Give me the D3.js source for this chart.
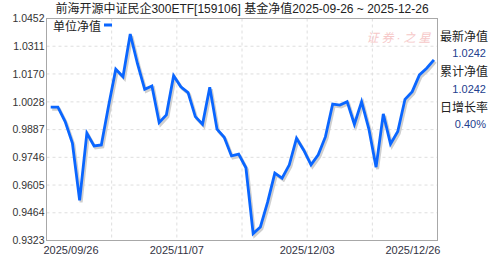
<!DOCTYPE html>
<html>
<head>
<meta charset="utf-8">
<script src="https://cdn.jsdelivr.net/npm/d3@7"></script>
<style>
body{margin:0;background:#fff;}
svg{display:block;font-family:"Liberation Sans","Noto Sans CJK SC",sans-serif;}
</style>
</head>
<body>
<div id="chart"></div>
<script>
// unit NAV, one value per trading day
var navValues = [1.0001, 1.0001, 0.9928, 0.9819, 0.9527, 0.9869, 0.9804, 0.9809, 1.0007, 1.0194,
    1.0156, 1.0373, 1.0222, 1.0092, 1.0109, 0.9923, 0.9962, 1.0161, 1.0105, 1.0075,
    0.9953, 0.9914, 1.0102, 0.9889, 0.9848, 0.9753, 0.9762, 0.9693, 0.9358, 0.9392,
    0.9518, 0.9666, 0.9640, 0.9708, 0.9843, 0.9782, 0.9708, 0.9759, 0.9851, 1.0017,
    1.0012, 1.0029, 0.9914, 1.0029, 0.9891, 0.9696, 0.9967, 0.9814, 0.9877, 1.0041,
    1.0080, 1.0165, 1.0199, 1.0242];
var yTickLabels = ["0.9323", "0.9464", "0.9605", "0.9746", "0.9887", "1.0028", "1.0170", "1.0311", "1.0452"];
var xTickLabels = ["2025/09/26", "2025/11/07", "2025/12/03", "2025/12/26"];
var xTickCols = [0, 2, 4, 6];
var titleText = "前海开源中证民企300ETF[159106] 基金净值2025-09-26 ~ 2025-12-26";
var legendText = "单位净值";
var infoLabels = ["最新净值", "累计净值", "日增长率"];
var infoValues = ["1.0242", "1.0242", "0.40%"];

var W = 488, H = 255;
var margin = {top: 18.5, right: 50.5, bottom: 14.5, left: 46.5};
var plotL = margin.left, plotR = W - margin.right,
    plotT = margin.top, plotB = H - margin.bottom;

var svg = d3.select("#chart").append("svg")
    .attr("width", W)
    .attr("height", H);

var yScale = d3.scaleLinear()
    .domain([+yTickLabels[0], +yTickLabels[yTickLabels.length - 1]])
    .range([plotB, plotT]);

// line is inset a few px from the frame
var xScale = d3.scalePoint()
    .domain(d3.range(navValues.length))
    .range([plotL + 4.2, plotR - 3.6]);

// 6 columns of grid
var xGrid = d3.scaleLinear().domain([0, 6]).range([plotL, plotR]);

// grid
svg.append("g").selectAll("line")
    .data(yTickLabels.slice(1, -1))
    .enter().append("line")
    .attr("x1", plotL).attr("x2", plotR)
    .attr("y1", function(d){ return yScale(+d); })
    .attr("y2", function(d){ return yScale(+d); })
    .attr("stroke", "#dedede")
    .attr("stroke-dasharray", "3,3");

svg.append("g").selectAll("line")
    .data(d3.range(1, 6))
    .enter().append("line")
    .attr("x1", function(d){ return xGrid(d); })
    .attr("x2", function(d){ return xGrid(d); })
    .attr("y1", plotT).attr("y2", plotB)
    .attr("stroke", "#dedede")
    .attr("stroke-dasharray", "3,3");

// frame
svg.append("rect")
    .attr("x", plotL).attr("y", plotT)
    .attr("width", plotR - plotL).attr("height", plotB - plotT)
    .attr("fill", "none")
    .attr("stroke", "#a8a8a8");

// watermark
svg.append("text")
    .attr("x", 400).attr("y", 42)
    .attr("text-anchor", "middle")
    .attr("font-size", 12)
    .attr("font-style", "italic")
    .attr("letter-spacing", 3)
    .attr("fill", "#f6c8c8")
    .text("证券·之星");

// y labels
svg.append("g").selectAll("text")
    .data(yTickLabels)
    .enter().append("text")
    .attr("x", plotL - 2)
    .attr("y", function(d){ return yScale(+d); })
    .attr("dy", "0.35em")
    .attr("text-anchor", "end")
    .attr("font-size", 10.5)
    .attr("fill", "#333")
    .text(function(d){ return d; });

// x labels
svg.append("g").selectAll("text")
    .data(xTickLabels)
    .enter().append("text")
    .attr("x", function(d, i){ return xGrid(xTickCols[i]); })
    .attr("y", 254)
    .attr("text-anchor", function(d, i){ return i == 0 ? "start" : (i == xTickLabels.length - 1 ? "end" : "middle"); })
    .attr("dx", function(d, i){ return i == 0 ? -3 : (i == xTickLabels.length - 1 ? 3 : 0); })
    .attr("font-size", 11)
    .attr("fill", "#334")
    .text(function(d){ return d; });

// line + shadow
var line = d3.line()
    .x(function(d, i){ return xScale(i); })
    .y(function(d){ return yScale(d); });

svg.append("path")
    .datum(navValues)
    .attr("d", line)
    .attr("transform", "translate(1.5,2)")
    .attr("fill", "none")
    .attr("stroke", "#cfcfcf")
    .attr("stroke-width", 3);

svg.append("path")
    .datum(navValues)
    .attr("d", line)
    .attr("fill", "none")
    .attr("stroke", "#0a66ff")
    .attr("stroke-width", 2.8)
    .attr("stroke-linejoin", "miter");

// title
svg.append("text")
    .attr("x", (plotL + plotR) / 2)
    .attr("y", 12.5)
    .attr("text-anchor", "middle")
    .attr("font-size", 12)
    .attr("fill", "#222")
    .text(titleText);

// legend
svg.append("text")
    .attr("x", 53).attr("y", 30.5)
    .attr("font-size", 12)
    .attr("fill", "#222")
    .text(legendText);
svg.append("rect")
    .attr("x", 104).attr("y", 23.5)
    .attr("width", 8).attr("height", 3)
    .attr("fill", "#0a66ff");

// info panel on the right
var info = svg.append("g");
info.selectAll(".lab")
    .data(infoLabels)
    .enter().append("text")
    .attr("class", "lab")
    .attr("x", 440)
    .attr("y", function(d, i){ return 40.5 + i * 35.5; })
    .attr("font-size", 12)
    .attr("fill", "#222")
    .text(function(d){ return d; });
info.selectAll(".val")
    .data(infoValues)
    .enter().append("text")
    .attr("class", "val")
    .attr("x", 486)
    .attr("y", function(d, i){ return 57 + i * 35.5; })
    .attr("text-anchor", "end")
    .attr("font-size", 11)
    .attr("fill", "#23408e")
    .text(function(d){ return d; });
</script>
</body>
</html>
